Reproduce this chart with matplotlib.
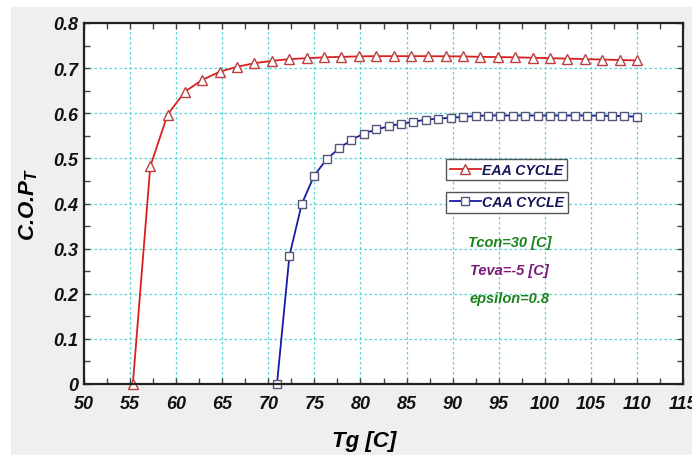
import matplotlib
matplotlib.use('Agg')
import matplotlib.pyplot as plt
from matplotlib.patches import Rectangle
from matplotlib.ticker import MultipleLocator

# ===== DATA =====
eaa_tg = [55.3, 57.19, 59.07, 60.96, 62.84, 64.73, 66.62, 68.50, 70.39, 72.28,
          74.16, 76.05, 77.93, 79.82, 81.71, 83.59, 85.48, 87.37, 89.25, 91.14,
          93.02, 94.91, 96.80, 98.68, 100.57, 102.46, 104.34, 106.23, 108.11, 110.0]
eaa_cop = [0.0, 0.482, 0.597, 0.648, 0.674, 0.692, 0.703, 0.711, 0.716, 0.720,
           0.722, 0.724, 0.725, 0.726, 0.7265, 0.7265, 0.7265, 0.7265, 0.7262, 0.726,
           0.725, 0.7245, 0.724, 0.723, 0.722, 0.721, 0.720, 0.719, 0.718, 0.717]

caa_tg = [70.94, 72.29, 73.63, 74.98, 76.33, 77.67, 79.02, 80.37, 81.71, 83.06,
          84.41, 85.75, 87.10, 88.45, 89.79, 91.14, 92.49, 93.83, 95.18, 96.53,
          97.87, 99.22, 100.57, 101.91, 103.26, 104.61, 105.95, 107.30, 108.65, 110.0]
caa_cop = [0.0, 0.284, 0.399, 0.462, 0.498, 0.522, 0.541, 0.555, 0.564, 0.571,
           0.577, 0.581, 0.586, 0.588, 0.590, 0.592, 0.594, 0.595, 0.595, 0.595,
           0.595, 0.595, 0.595, 0.595, 0.595, 0.595, 0.5945, 0.594, 0.594, 0.592]

notes = ["Tcon=30 [C]", "Teva=-5 [C]", "epsilon=0.8"]
note_colors = ["#1c821c", "#7a1a7a", "#1c821c"]
note_y = [0.315, 0.253, 0.191]
# ================

FONT = 'Liberation Sans'
plt.rcParams['font.family'] = FONT
plt.rcParams['mathtext.fontset'] = 'custom'
plt.rcParams['mathtext.rm'] = 'Liberation Sans:italic:bold'
plt.rcParams['mathtext.it'] = 'Liberation Sans:italic:bold'

fig = plt.figure(figsize=(6.92, 4.56), dpi=100, facecolor='white')
fig.patches.append(Rectangle((11 / 692, 0), 1, 448 / 456, transform=fig.transFigure,
                             facecolor='#efefef', edgecolor='none', zorder=-10))

ax = fig.add_axes([84 / 692, 71 / 456, 599 / 692, 361 / 456])
ax.set_facecolor('white')

l1, = ax.plot(eaa_tg, eaa_cop, color='#d82020', lw=1.3, marker='^', ms=6.5,
              mfc='white', mec='#b84040', mew=1.0, label='EAA CYCLE', clip_on=False)
l2, = ax.plot(caa_tg, caa_cop, color='#1a1aa8', lw=1.3, marker='s', ms=5.5,
              mfc='white', mec='#55557a', mew=1.0, label='CAA CYCLE', clip_on=False)

ax.set_xlim(50, 115)
ax.set_ylim(0, 0.8)
ax.xaxis.set_major_locator(MultipleLocator(5))
ax.xaxis.set_minor_locator(MultipleLocator(2.5))
ax.yaxis.set_major_locator(MultipleLocator(0.1))
ax.yaxis.set_minor_locator(MultipleLocator(0.05))
ax.yaxis.set_major_formatter(plt.FuncFormatter(lambda v, p: '0' if abs(v) < 1e-9 else f'{v:.1f}'))

ax.grid(True, which='major', color='#55d5d5', linestyle=(0, (2, 2)), lw=0.9)
ax.tick_params(which='both', direction='in', top=True, right=True, color='#444444')
ax.tick_params(which='major', length=4, width=1)
ax.tick_params(which='minor', length=4, width=1)
ax.tick_params(axis='x', which='major', pad=8)
ax.tick_params(axis='y', which='major', pad=4)
for lab in ax.get_xticklabels() + ax.get_yticklabels():
    lab.set_fontsize(13)
    lab.set_fontweight('bold')
    lab.set_fontstyle('italic')
    lab.set_color('#111111')

for s in ax.spines.values():
    s.set_linewidth(1.6)
    s.set_color('#222222')

ax.set_xlabel('Tg [C]', fontsize=16, fontweight='bold', fontstyle='italic')
ax.xaxis.set_label_coords(0.467, -0.127)
ax.set_ylabel(r'C.O.P$_\mathrm{T}$', fontsize=16, fontweight='bold', fontstyle='italic')
ax.yaxis.set_label_coords(-0.073, 0.5)

# two separate legend boxes
leg_kw = dict(frameon=True, fancybox=False, framealpha=1, edgecolor='#555555',
              handlelength=2.2, handletextpad=0.1, borderpad=0.25, borderaxespad=0,
              loc='upper left',
              prop={'family': FONT, 'weight': 'bold', 'style': 'italic', 'size': 10.2})
lg1 = ax.legend(handles=[l1], bbox_to_anchor=(0.6043, 0.6233), **leg_kw)
ax.add_artist(lg1)
lg2 = ax.legend(handles=[l2], bbox_to_anchor=(0.6043, 0.5327), **leg_kw)
for lg in (lg1, lg2):
    lg.get_frame().set_linewidth(1.0)
    for t in lg.get_texts():
        t.set_color('#14145a')

for txt, c, y in zip(notes, note_colors, note_y):
    ax.text(96.2, y, txt, color=c, fontsize=10.5, fontweight='bold',
            fontstyle='italic', ha='center', va='center')

fig.savefig('out.png', dpi=100, facecolor=fig.get_facecolor())
